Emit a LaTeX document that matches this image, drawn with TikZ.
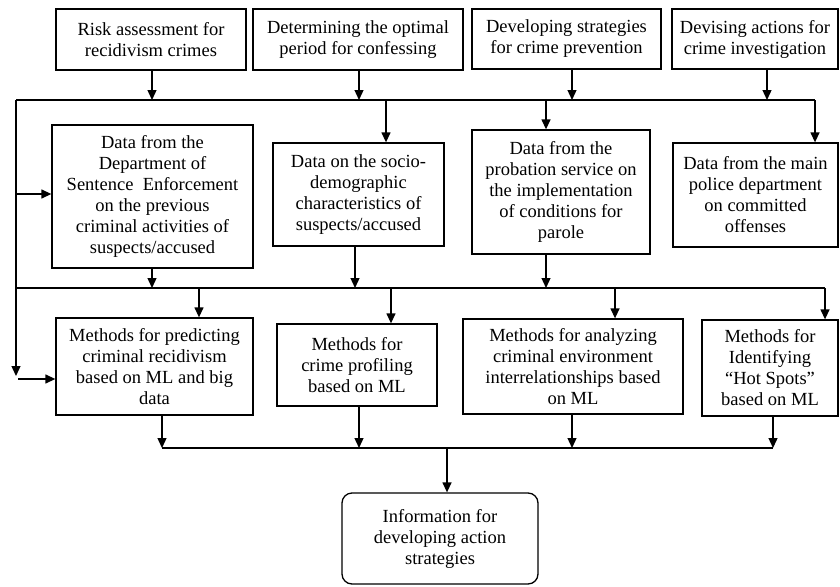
\documentclass[tikz,border=0pt]{standalone}
\usepackage{fontspec}
\setmainfont{Liberation Serif}
\usetikzlibrary{arrows.meta}
\begin{document}
\begin{tikzpicture}[x=1pt,y=-1pt,
  box/.style={draw, line width=1.3pt, rectangle, align=center, inner sep=1pt,
    font=\fontsize{18.5}{21}\selectfont},
  rbox/.style={box, rounded corners=10pt},
  ln/.style={line width=1.3pt},
  arr/.style={line width=1.3pt, -{Triangle[length=10pt,width=9pt]}}]
\useasboundingbox (0,0) rectangle (840,586);
% top row
\node[box, minimum width=190pt, minimum height=61pt] (t1) at (151,39.5) {Risk assessment for\\recidivism crimes};
\node[box, minimum width=210pt, minimum height=61pt] (t2) at (358,39.5) {Determining the optimal\\period for confessing};
\node[box, minimum width=189pt, minimum height=60pt] (t3) at (566.5,39) {Developing strategies\\for crime prevention};
\node[box, minimum width=166pt, minimum height=60pt] (t4) at (755,39) {Devising actions for\\crime investigation};
% data row
\node[box, minimum width=201pt, minimum height=143pt] (d1) at (152.5,196.5) {Data from the\\Department of\\Sentence\ \ Enforcement\\on the previous\\criminal activities of\\suspects/accused};
\node[box, minimum width=171pt, minimum height=103pt] (d2) at (358.5,194.5) {Data on the socio-\\demographic\\characteristics of\\suspects/accused};
\node[box, minimum width=178pt, minimum height=124pt] (d3) at (561,192) {Data from the\\probation service on\\the implementation\\of conditions for\\parole};
\node[box, minimum width=165pt, minimum height=104pt] (d4) at (755.5,195) {Data from the main\\police department\\on committed\\offenses};
% methods row
\node[box, minimum width=197pt, minimum height=97pt] (m1) at (154.5,366.5) {Methods for predicting\\criminal recidivism\\based on ML and big\\data};
\node[box, minimum width=160pt, minimum height=82pt] (m2) at (357,365) {Methods for\\crime profiling\\based on ML};
\node[box, minimum width=220pt, minimum height=95pt] (m3) at (573,366.5) {Methods for analyzing\\criminal environment\\interrelationships based\\on ML};
\node[box, minimum width=136pt, minimum height=96pt] (m4) at (770,368) {Methods for\\Identifying\\``Hot Spots''\\based on ML};
% result
\node[rbox, minimum width=196pt, minimum height=91pt] (r) at (440,538.5) {Information for\\developing action\\strategies};
% bus A
\coordinate (A0) at (16,100);
\coordinate (A1) at (815,100);
\draw[ln] (A0) -- (A1);
\draw[arr] (152,0 |- t1.south) -- (152,100);
\draw[arr] (359,0 |- t2.south) -- (359,100);
\draw[arr] (572,0 |- t3.south) -- (572,100);
\draw[arr] (767,0 |- t4.south) -- (767,100);
\draw[arr] (386,100) -- (386,0 |- d2.north);
\draw[arr] (546,100) -- (546,0 |- d3.north);
\draw[arr] (A1) -- (A1 |- d4.north);
% left feeder
\coordinate (L1) at (16,376);
\draw[arr] (A0) -- (L1);
\draw[arr] (16,194) -- (d1.west |- 0,194);
\draw[arr] (18,379) -- (m1.west |- 0,379);
% bus B
\coordinate (B0) at (16,288);
\coordinate (B1) at (825,288);
\draw[ln] (B0) -- (B1);
\draw[arr] (152,0 |- d1.south) -- (152,288);
\draw[arr] (355,0 |- d2.south) -- (355,288);
\draw[arr] (546,0 |- d3.south) -- (546,288);
\draw[arr] (199,288) -- (199,0 |- m1.north);
\draw[arr] (391,288) -- (391,0 |- m2.north);
\draw[arr] (615,288) -- (615,0 |- m3.north);
\draw[arr] (B1) -- (B1 |- m4.north);
% bus C
\coordinate (C0) at (162,448);
\coordinate (C1) at (773,448);
\draw[ln] (C0) -- (C1);
\draw[arr] (162,0 |- m1.south) -- (C0);
\draw[arr] (359,0 |- m2.south) -- (359,448);
\draw[arr] (572,0 |- m3.south) -- (572,448);
\draw[arr] (773,0 |- m4.south) -- (C1);
\draw[arr] (447,448) -- (447,0 |- r.north);
\end{tikzpicture}
\end{document}
